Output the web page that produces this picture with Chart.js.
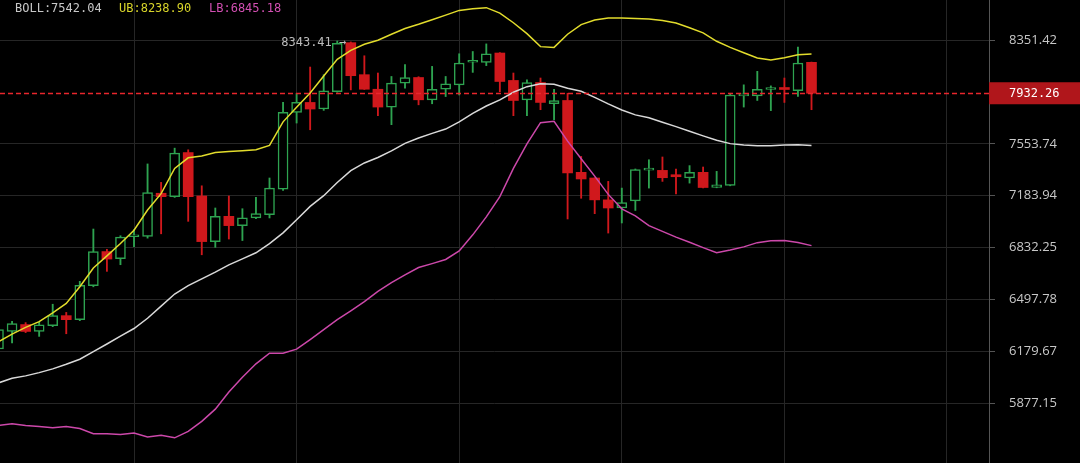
<!DOCTYPE html>
<html>
<head>
<meta charset="utf-8">
<script src="https://cdn.jsdelivr.net/npm/chart.js@4.4.1/dist/chart.umd.min.js"></script>
<style>
  html, body { margin: 0; padding: 0; background: #000; }
  #wrap { position: relative; width: 1080px; height: 463px; }
</style>
</head>
<body>
<div id="wrap"><canvas id="chart" width="1080" height="463"></canvas></div>
<script>
// ------------------ Data --------------------

var open  = [6194, 6300, 6342, 6300, 6335, 6397, 6372, 6585, 6806, 6759,
             6904, 6906, 7201, 7177, 7490, 7182, 6872, 7042, 6979, 7031,
             7053, 7230, 7787, 7862, 7812, 7944, 8330, 8076, 7963, 7827,
             8010, 8054, 7882, 7963, 7997, 8174, 8173, 8247, 8031, 7882,
             8015, 7852, 7877, 7348, 7308, 7155, 7099, 7148, 7364, 7362,
             7323, 7308, 7348, 7241, 7255, 7912, 7912, 7961, 7967, 7952, 8173];
var high  = [6354, 6362, 6354, 6356, 6468, 6417, 6613, 6956, 6821, 6911,
             6952, 7408, 7277, 7522, 7510, 7253, 7099, 7182, 7094, 7173,
             7308, 7862, 7932, 8136, 8076, 8343.41, 8336, 8225, 8089, 8062,
             8155, 8060, 8141, 8062, 8241, 8259, 8320, 8250, 8089, 8036,
             8050, 7963, 7932, 7462, 7310, 7284, 7237, 7372, 7438, 7458,
             7372, 7396, 7386, 7355, 7932, 7997, 8102, 7989, 8050, 8294, 8175];
var low   = [6176, 6231, 6293, 6270, 6329, 6286, 6366, 6578, 6677, 6720,
             6838, 6895, 6924, 7172, 7008, 6785, 6834, 6889, 6879, 7026,
             7031, 7220, 7707, 7657, 7802, 7940, 7958, 7961, 7762, 7695,
             7971, 7844, 7852, 7907, 7919, 8094, 8147, 7944, 7762, 7762,
             7807, 7732, 7024, 7166, 7060, 6929, 6997, 7082, 7237, 7284,
             7196, 7272, 7238, 7239, 7253, 7827, 7877, 7800, 7862, 7907, 7807];
var close = [6311, 6348, 6300, 6340, 6397, 6372, 6587, 6806, 6757, 6902,
             6914, 7205, 7177, 7486, 7177, 6872, 7042, 6979, 7031, 7060,
             7237, 7787, 7862, 7812, 7950, 8325, 8068, 7963, 7827, 8010,
             8054, 7882, 7963, 8005, 8168, 8186, 8241, 8023, 7877, 8015,
             7862, 7877, 7344, 7301, 7155, 7099, 7137, 7367, 7369, 7310,
             7317, 7348, 7241, 7260, 7919, 7917, 7963, 7967, 7961, 8168, 7932.26];

// Bollinger bands
var ub = [6237, 6284, 6325, 6360, 6414, 6473, 6578, 6699, 6778, 6859,
          6948, 7085, 7198, 7376, 7452, 7465, 7491, 7497, 7503, 7510,
          7542, 7716, 7826, 7934, 8066, 8197, 8268, 8317, 8350, 8398,
          8445, 8479, 8516, 8555, 8594, 8608, 8617, 8572, 8492, 8403,
          8298, 8292, 8398, 8477, 8514, 8531, 8531, 8527, 8523, 8511,
          8490, 8451, 8409, 8341, 8292, 8249, 8207, 8191, 8210, 8233, 8238.90];
var mb = [5994, 6021, 6035, 6054, 6076, 6103, 6133, 6178, 6224, 6272,
          6318, 6381, 6456, 6532, 6585, 6629, 6672, 6719, 6758, 6798,
          6858, 6930, 7019, 7110, 7184, 7276, 7360, 7415, 7454, 7502,
          7557, 7596, 7630, 7662, 7716, 7780, 7835, 7881, 7940, 7983,
          8005, 8002, 7970, 7948, 7901, 7851, 7805, 7768, 7746, 7713,
          7680, 7646, 7612, 7580, 7555, 7545, 7540, 7540, 7545, 7547, 7542.04];
var lb = [5752, 5762, 5752, 5747, 5740, 5747, 5735, 5707, 5707, 5703,
          5710, 5689, 5698, 5684, 5720, 5775, 5844, 5941, 6027, 6106,
          6169, 6169, 6193, 6251, 6311, 6372, 6427, 6484, 6549, 6604,
          6654, 6702, 6727, 6754, 6810, 6917, 7038, 7177, 7376, 7553,
          7710, 7720, 7573, 7445, 7321, 7193, 7093, 7045, 6979, 6940,
          6902, 6868, 6832, 6798, 6816, 6837, 6865, 6878, 6879, 6866, 6845.18];

// axis ticks (the one under the price tag is left out)
var yTicks = [5877.15, 6179.67, 6497.78, 6832.25, 7183.94, 7553.74, 8351.42];
var xGridAt = [10, 22, 34, 46, 58, 70];
var highMark = 25; // candle carrying the "8343.41" label

// ------------------ Styles --------------------

var GREEN = '#2ea350';
var RED = '#d0181c';
var GRID = '#262626';

var last = close.length - 1;
var up = close.map(function (c, i) { return c >= open[i]; });

function pts(arr) {
  return arr.map(function (v, i) { return { x: i, y: v }; });
}

var wicks = close.map(function (c, i) { return { x: i, y: [low[i], high[i]] }; });
var bodies = close.map(function (c, i) {
  return { x: i, y: [Math.min(open[i], c), Math.max(open[i], c)] };
});

// ------------------ Overlay --------------------

var overlay = {
  id: 'overlay',
  afterDatasetsDraw: function (chart) {
    var ctx = chart.ctx, a = chart.chartArea;
    var y = Math.round(chart.scales.y.getPixelForValue(close[last]));
    ctx.save();
    ctx.strokeStyle = '#e8262c';
    ctx.lineWidth = 1.3;
    ctx.setLineDash([5, 3]);
    ctx.beginPath();
    ctx.moveTo(a.left, y + 0.5);
    ctx.lineTo(a.right, y + 0.5);
    ctx.stroke();
    ctx.restore();
  },
  afterDraw: function (chart) {
    var ctx = chart.ctx, a = chart.chartArea;
    var xs = chart.scales.x, ys = chart.scales.y;
    ctx.save();

    // current price tag on the axis
    var py = ys.getPixelForValue(close[last]);
    ctx.fillStyle = '#b0161b';
    ctx.fillRect(a.right, py - 11, chart.width - a.right, 22);
    ctx.fillStyle = '#ffffff';
    ctx.font = '12px "DejaVu Sans Mono"';
    ctx.textAlign = 'left';
    ctx.textBaseline = 'middle';
    ctx.fillText(close[last].toFixed(2), a.right + 20, py + 0.5);

    // high marker
    ctx.fillStyle = '#bdbdbd';
    ctx.textAlign = 'right';
    ctx.textBaseline = 'alphabetic';
    ctx.fillText(high[highMark].toFixed(2) + ' \u2192', xs.getPixelForValue(highMark) + 9, ys.getPixelForValue(high[highMark]) + 5);

    // header
    ctx.textAlign = 'left';
    ctx.fillStyle = '#c8c8c8';
    ctx.fillText('BOLL:' + mb[last].toFixed(2), 15, 12);
    ctx.fillStyle = '#d8d42a';
    ctx.fillText('UB:' + ub[last].toFixed(2), 119, 12);
    ctx.fillStyle = '#d24fb2';
    ctx.fillText('LB:' + lb[last].toFixed(2), 209, 12);
    ctx.restore();
  }
};

// ------------------ Chart --------------------

var ctx = document.getElementById('chart').getContext('2d');

var chart = new Chart(ctx, {
  type: 'bar',
  data: {
    datasets: [
      {
        type: 'line', label: 'UB', data: pts(ub), order: 1,
        borderColor: '#e2dc2c', borderWidth: 1.5, pointRadius: 0, tension: 0
      },
      {
        type: 'line', label: 'BOLL', data: pts(mb), order: 1,
        borderColor: '#d9d9d9', borderWidth: 1.5, pointRadius: 0, tension: 0
      },
      {
        type: 'line', label: 'LB', data: pts(lb), order: 1,
        borderColor: '#cc48aa', borderWidth: 1.5, pointRadius: 0, tension: 0
      },
      {
        label: 'body', data: bodies, order: 2, grouped: false,
        barThickness: 10, minBarLength: 2, borderSkipped: false,
        backgroundColor: up.map(function (u) { return u ? '#000000' : RED; }),
        borderColor: up.map(function (u) { return u ? GREEN : RED; }),
        borderWidth: up.map(function (u) { return u ? 1.5 : 0; })
      },
      {
        label: 'wick', data: wicks, order: 3, grouped: false,
        barThickness: 1.2,
        backgroundColor: up.map(function (u) { return u ? GREEN : RED; })
      }
    ]
  },
  options: {
    responsive: false,
    animation: false,
    devicePixelRatio: 1,
    layout: { padding: 0, autoPadding: false },
    plugins: { legend: { display: false }, tooltip: { enabled: false } },
    scales: {
      x: {
        type: 'linear',
        min: 0.11,
        max: 73.1,
        offset: false,
        grid: { color: GRID, offset: false, drawTicks: false },
        border: { display: false },
        ticks: { display: false },
        afterBuildTicks: function (s) {
          s.ticks = xGridAt.map(function (v) { return { value: v }; });
        },
        afterFit: function (s) {
          s.height = 0;
          s.paddingLeft = s.paddingRight = 0;
        }
      },
      y: {
        type: 'logarithmic',
        position: 'right',
        min: 5547.3,
        max: 8680.9,
        beginAtZero: false,
        grid: { color: GRID, tickLength: 6, tickColor: '#555555' },
        border: { display: true, color: '#555555' },
        ticks: {
          color: '#c8c8c8',
          padding: 14,
          font: { family: 'Open Sans', size: 13 },
          callback: function (v) { return Number(v).toFixed(2); }
        },
        afterBuildTicks: function (s) {
          s.ticks = yTicks.map(function (v) { return { value: v }; });
        },
        afterFit: function (s) {
          s.width = 91;
          s.paddingTop = s.paddingBottom = 0;
        }
      }
    }
  },
  plugins: [overlay]
});
</script>
</body>
</html>
